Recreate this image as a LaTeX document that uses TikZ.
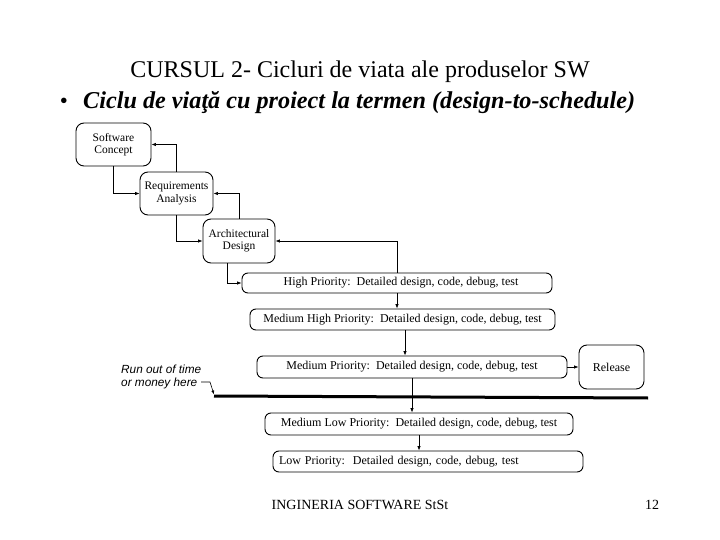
\documentclass[tikz,border=0pt]{standalone}
\usepackage{fontspec}
\setmainfont{Liberation Serif}
\newfontfamily\sansit{Liberation Sans}
\usetikzlibrary{arrows.meta}
\begin{document}
\begin{tikzpicture}[x=1bp,y=-1bp,
  sbox/.style={draw, line width=0.9bp, rounded corners=8bp, align=center, inner sep=1bp,
    font=\fontsize{11.5bp}{12.5bp}\selectfont},
  wbox/.style={draw, line width=0.9bp, rounded corners=6bp, inner sep=1bp,
    font=\fontsize{12bp}{13bp}\selectfont},
  arr/.style={line width=0.7bp, -{Latex[length=4.5bp,width=3.5bp]}},
  lbl/.style={inner sep=0pt}]
\useasboundingbox (0,0) rectangle (720,540);
% titles
\node[lbl, font=\fontsize{24bp}{26bp}\selectfont] (title) at (360,72) {CURSUL 2- Cicluri de viata ale produselor SW};
\node[lbl, font=\fontsize{23bp}{25bp}\selectfont] (bul) at (64,103) {•};
\node[lbl, anchor=west, font=\fontsize{24.2bp}{26bp}\selectfont\bfseries\itshape] (sub) at (83,103) {Ciclu de viaţă cu proiect la termen (design-to-schedule)};
% boxes
\node[sbox, minimum width=75bp, minimum height=43bp] (sc) at (113.5,144.5) {Software\\Concept};
\node[sbox, minimum width=73bp, minimum height=43bp] (ra) at (176.5,193.5) {Requirements\\Analysis};
\node[sbox, minimum width=72bp, minimum height=44bp] (ad) at (239,241) {Architectural\\Design};
\node[wbox, minimum width=310bp, minimum height=20bp] (hp) at (397,283) {\hspace{8bp}High Priority:\ \ Detailed design, code, debug, test};
\node[wbox, minimum width=305bp, minimum height=21bp] (mhp) at (402.5,319.5) {Medium High Priority:\ \ Detailed design, code, debug, test};
\node[wbox, minimum width=310bp, minimum height=22bp] (mp) at (412,367) {Medium Priority:\ \ Detailed design, code, debug, test};
\node[sbox, minimum width=65bp, minimum height=44bp, font=\fontsize{12bp}{13bp}\selectfont] (rel) at (611.5,367) {Release};
\node[wbox, minimum width=308bp, minimum height=22bp] (mlp) at (419,424) {Medium Low Priority:\ \ Detailed design, code, debug, test};
\node[wbox, minimum width=310bp, minimum height=21bp, text width=298bp, align=left] (lp) at (428,461.5) {Low Priority:\ \ Detailed design, code, debug, test};
% connectors
\draw[arr] (sc.south) |- (ra.west);
\draw[arr] (ra.north) |- (sc.east);
\draw[arr] (ra.south) |- (ad.west);
\draw[arr] (ad.north) |- (ra.east);
\draw[arr] ([xshift=-12bp]ad.south) |- (hp.west);
\draw[arr] (hp.north) |- (ad.east);
\draw[arr] (hp.south) -- (hp.south |- mhp.north);
\draw[arr] ([xshift=2.5bp]mhp.south) -- ([xshift=2.5bp]mhp.south |- mp.north);
\draw[arr] (mp.south) -- (mp.south |- mlp.north);
\draw[arr] (mlp.south) -- (mlp.south |- lp.north);
\draw[arr] (mp.east) -- (rel.west);
% run out of time
\coordinate (tl) at (214,396);
\coordinate (tr) at (648,398);
\draw[line width=3bp] (tl) -- (tr);
\node[lbl, anchor=west, align=left, font=\fontsize{11.8bp}{12.5bp}\selectfont\sansit\itshape] (run) at (121,377) {Run out of time\\or money here};
\coordinate (hk) at (201,382);
\draw[line width=0.6bp, -{Latex[length=4bp,width=3bp]}] (hk) -- ++(9,0) -- ([yshift=1.5bp]tl);
% footer
\node[lbl, font=\fontsize{14bp}{16bp}\selectfont] (foot) at (360,505) {INGINERIA SOFTWARE StSt};
\node[lbl, font=\fontsize{14bp}{16bp}\selectfont] (num) at (652,505) {12};
\end{tikzpicture}
\end{document}
